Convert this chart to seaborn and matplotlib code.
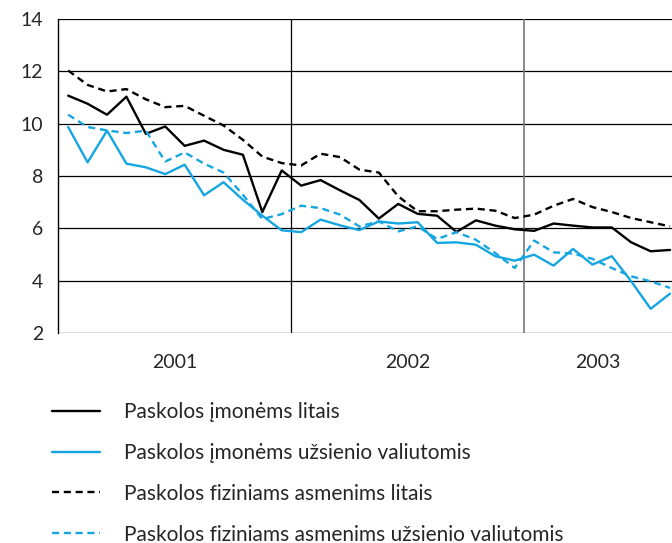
import matplotlib
matplotlib.use('Agg')
import matplotlib.pyplot as plt
import seaborn as sns
import numpy as np
import pandas as pd

# ---- data: monthly interest rates, Jan 2001 - Aug 2003 ----
months = np.arange(32)
imonems_litais = [11.07, 10.76, 10.34, 11.03, 9.61, 9.89, 9.15, 9.35, 9.00, 8.81, 6.62, 8.21,
                  7.63, 7.84, 7.45, 7.08, 6.37, 6.93, 6.55, 6.48, 5.86, 6.30, 6.10, 5.96,
                  5.90, 6.18, 6.10, 6.03, 6.03, 5.46, 5.12, 5.17]
imonems_valiuta = [9.87, 8.52, 9.73, 8.47, 8.33, 8.07, 8.43, 7.26, 7.76, 7.09, 6.48, 5.92,
                   5.85, 6.33, 6.11, 5.93, 6.26, 6.18, 6.23, 5.44, 5.46, 5.37, 4.93, 4.76,
                   4.99, 4.57, 5.21, 4.61, 4.93, 3.97, 2.92, 3.50]
fiz_litais = [12.03, 11.48, 11.23, 11.32, 10.93, 10.63, 10.68, 10.30, 9.93, 9.38, 8.74, 8.49,
              8.40, 8.85, 8.72, 8.24, 8.13, 7.22, 6.65, 6.65, 6.71, 6.75, 6.67, 6.39,
              6.52, 6.86, 7.12, 6.81, 6.62, 6.39, 6.23, 6.07]
fiz_valiuta = [10.34, 9.87, 9.74, 9.64, 9.73, 8.55, 8.90, 8.47, 8.13, 7.28, 6.35, 6.54,
               6.86, 6.77, 6.52, 6.07, 6.26, 5.88, 6.07, 5.59, 5.85, 5.56, 5.05, 4.48,
               5.53, 5.08, 5.03, 4.83, 4.48, 4.16, 3.97, 3.72]

labels = ['Paskolos įmonėms litais',
          'Paskolos įmonėms užsienio valiutomis',
          'Paskolos fiziniams asmenims litais',
          'Paskolos fiziniams asmenims užsienio valiutomis']
years = ['2001', '2002', '2003']

BLUE = '#15a6e1'
colors = dict(zip(labels, ['black', BLUE, 'black', BLUE]))
dashes = dict(zip(labels, ['', '', (3, 2.0), (3, 2.0)]))

df = pd.concat([
    pd.DataFrame({'x': months + 0.5, 'y': vals, 'serija': lab})
    for vals, lab in zip([imonems_litais, imonems_valiuta, fiz_litais, fiz_valiuta], labels)
])

sns.set_theme(style='white')
plt.rcParams['font.family'] = ['Lato', 'DejaVu Sans']

fig = plt.figure(figsize=(6.72, 5.43), dpi=100)
ax = fig.add_axes([0.087, 0.387, 0.913, 0.578])

sns.lineplot(data=df, x='x', y='y', hue='serija', style='serija',
             palette=colors, dashes=dashes, linewidth=1.7, ax=ax, legend=True)

ax.set_xlim(0, 31.6)
ax.set_ylim(2, 14)
ax.set_yticks(np.arange(2, 15, 2))
for v in np.arange(2, 15, 2):
    ax.axhline(v, color='black', lw=0.9, zorder=0)
ax.axvline(12, color='black', lw=0.9, zorder=0)
ax.axvline(24, color='#777777', lw=1.2, zorder=0)

for s in ['top', 'right', 'bottom']:
    ax.spines[s].set_visible(False)
ax.spines['left'].set_color('black')
ax.spines['left'].set_linewidth(1.0)

# year separators as ticks, year names in the middle
ax.set_xticks([0, 12, 24])
ax.set_xticklabels([])
ax.set_xticks([6, 18, 27.8], minor=True)
ax.set_xticklabels(years, minor=True)
ax.tick_params(axis='x', which='major', length=7, width=0.9, color='black', direction='out')
ax.tick_params(axis='x', which='minor', length=0, pad=15, labelsize=14)
ax.tick_params(axis='y', length=6, width=0.9, color='black', direction='out', labelsize=14, pad=5)
for t in ax.get_xticklines()[2:4]:
    t.set_color('#777777')
ax.set_xlabel('')
ax.set_ylabel('')

handles, labs = ax.get_legend_handles_labels()
ax.get_legend().remove()
fig.legend(handles, labs, loc='upper left', bbox_to_anchor=(0.065, 0.275),
           frameon=False, fontsize=15, handlelength=2.3, handletextpad=1.15,
           labelspacing=1.0, borderaxespad=0)

fig.savefig('out.png', dpi=100, facecolor='white')
